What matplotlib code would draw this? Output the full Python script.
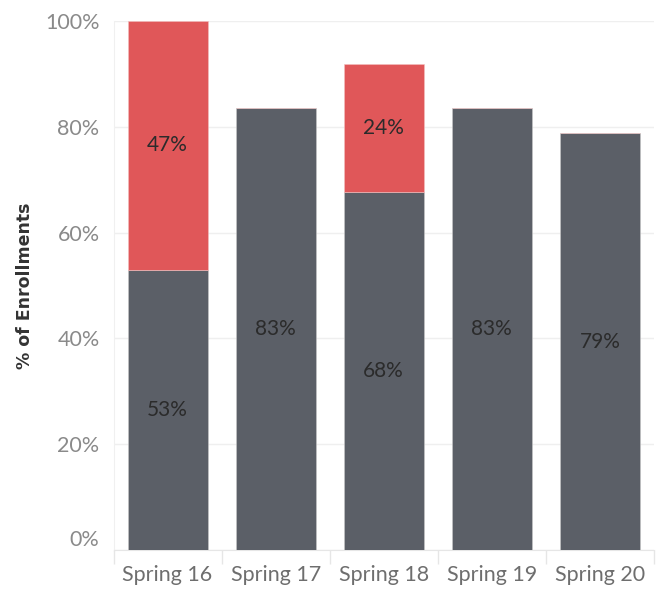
import numpy as np
import matplotlib.pyplot as plt
from matplotlib.ticker import FuncFormatter, FixedLocator

plt.rcParams['font.family'] = ['Lato', 'DejaVu Sans']

terms = ['Spring 16', 'Spring 17', 'Spring 18', 'Spring 19', 'Spring 20']
base = [53, 83.5, 67.7, 83.5, 78.8]      # dark segment, % of enrollments
extra = [47, 0, 24.2, 0, 0]              # red segment on top
base_labels = ['53%', '83%', '68%', '83%', '79%']
extra_labels = ['47%', '', '24%', '', '']

dark = '#5b5f67'
red = '#e05759'

fig = plt.figure(figsize=(6.63, 5.94), dpi=100)
ax = fig.add_axes([113.5 / 663, 44 / 594, 540.5 / 663, 529 / 594])

x = np.arange(len(terms))
w = 0.74
ax.bar(x, base, width=w, color=dark, edgecolor='#c8c8c8', linewidth=0.4, zorder=3)
ax.bar(x, extra, width=w, bottom=base, color=red, edgecolor='#f4c0c0', linewidth=0.4, zorder=3)

for i in range(len(terms)):
    ax.text(x[i], base[i] / 2, base_labels[i], ha='center', va='center',
            fontsize=15, color='#2b2b2b', zorder=4)
    if extra[i] > 0:
        ax.text(x[i], base[i] + extra[i] / 2, extra_labels[i], ha='center', va='center',
                fontsize=15, color='#2b2b2b', zorder=4)

ax.set_xlim(-0.5, len(terms) - 0.5)
ax.set_ylim(0, 100)
ax.set_yticks(np.arange(0, 101, 20))
ax.yaxis.set_major_formatter(FuncFormatter(lambda v, p: f'{v:.0f}%'))
ax.set_xticks(x)
ax.set_xticklabels(terms)
ax.xaxis.set_minor_locator(FixedLocator(np.arange(-0.5, len(terms), 1.0)))

ax.grid(axis='y', color='#efefef', linewidth=1, zorder=0)
for s in ['top', 'right']:
    ax.spines[s].set_visible(False)
ax.spines['left'].set_color('#f0f0f0')
ax.spines['bottom'].set_color('#e6e6e6')
ax.tick_params(axis='y', length=0, labelsize=15.5, labelcolor='#8a8a8a', pad=10)
ax.tick_params(axis='x', which='major', length=0, labelsize=15.5, labelcolor='#6e6e6e', pad=11)
ax.tick_params(axis='x', which='minor', length=10, color='#e6e6e6', width=1)

# Tableau nudges the 0% label up so it sits above the baseline
ax.get_yticklabels()[0].set_verticalalignment('bottom')

ax.set_ylabel('% of Enrollments', fontsize=12.5, fontweight='bold', color='#333333',
              family='DejaVu Sans', labelpad=8)

fig.savefig('out.png', dpi=100)
